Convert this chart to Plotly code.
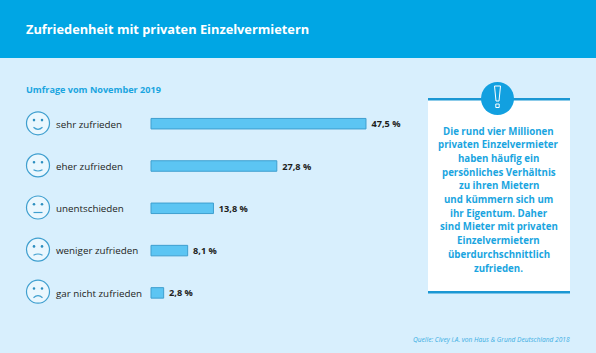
import plotly.graph_objects as go

W, H = 596, 353
categories = ["sehr zufrieden", "eher zufrieden", "unentschieden", "weniger zufrieden", "gar nicht zufrieden"]
values = [47.5, 27.8, 13.8, 8.1, 2.8]
value_labels = ["47,5 %", "27,8 %", "13,8 %", "8,1 %", "2,8 %"]
title = "Zufriedenheit mit privaten Einzelvermietern"
subtitle = "Umfrage vom November 2019"
source = "Quelle: Civey i.A. von Haus & Grund Deutschland 2018"
note_lines = ["Die rund vier Millionen", "privaten Einzelvermieter", "haben häufig ein", "persönliches Verhältnis",
              "zu ihren Mietern", "und kümmern sich um", "ihr Eigentum. Daher", "sind Mieter mit privaten",
              "Einzelvermietern", "überdurchschnittlich", "zufrieden."]
mouth_curve = [5, 3, 0, -3, -5]

FONT = "Open Sans"
BG, HEAD, BLUE, BAR, BARLINE, DARK = "#d8effd", "#00a6e4", "#1aa5e0", "#5cc5f3", "#3f9fcf", "#1d1d1b"
X0, PXU, Y0, ROW = 151, 4.526, 123.7, 42.3


def fx(p): return p / W
def fy(p): return 1 - p / H


shapes, ann = [], []


def rect(x0, y0, x1, y1, fill):
    shapes.append(dict(type="rect", xref="paper", yref="paper", x0=fx(x0), x1=fx(x1), y0=fy(y1), y1=fy(y0),
                       fillcolor=fill, line_width=0, layer="below"))


def circle(cx, cy, r, fill, line=None, lw=0):
    shapes.append(dict(type="circle", xref="paper", yref="paper", x0=fx(cx - r), x1=fx(cx + r), y0=fy(cy + r), y1=fy(cy - r),
                       fillcolor=fill, line=dict(color=line or fill, width=lw), layer="below"))


def text(x, y, s, size, color, bold=False, anchor="left", italic=False):
    ann.append(dict(x=fx(x), y=fy(y), xref="paper", yref="paper", text=f"<b>{s}</b>" if bold else s,
                    showarrow=False, xanchor=anchor, yanchor="middle",
                    font=dict(family=FONT, size=size, color=color, style="italic" if italic else "normal")))


rect(0, 0, W, 58, HEAD)
text(24, 29, title, 12.8, "white", bold=True)
text(24, 89, subtitle, 9.1, BLUE, bold=True)

for i, (cat, curve) in enumerate(zip(categories, mouth_curve)):
    cy = 123.3 + i * 42.1
    circle(38, cy, 11.5, "#eaf7fe", "#3f9fcf", 1.2)
    circle(34, cy - 3.2, 1.3, "#2d8fc0")
    circle(42, cy - 3.2, 1.3, "#2d8fc0")
    my = cy + 5 - curve * 0.2
    shapes.append(dict(type="path", xref="paper", yref="paper", layer="below",
                       path=f"M {fx(33.5)} {fy(my)} Q {fx(38)} {fy(my + curve * 0.8)} {fx(42.5)} {fy(my)}",
                       line=dict(color="#3f9fcf", width=1.2)))
    text(54, Y0 + i * ROW + 0.3, cat, 9.8, DARK)

# note box
rect(428, 99, 570, 293, "white")
rect(428, 98, 570, 100.5, "#1b97d3")
rect(428, 291, 570, 293.5, "#1b97d3")
circle(497.5, 98.5, 16.5, "#12a0e0")
shapes.append(dict(type="path", xref="paper", yref="paper", layer="above",
                   path=f"M {fx(494.5)} {fy(86)} L {fx(500.5)} {fy(86)} L {fx(499)} {fy(101)} L {fx(496)} {fy(101)} Z",
                   fillcolor="rgba(0,0,0,0)", line=dict(color="white", width=1)))
shapes.append(dict(type="rect", xref="paper", yref="paper", layer="above",
                   x0=fx(495.8), x1=fx(499.2), y0=fy(107.5), y1=fy(104), fillcolor="rgba(0,0,0,0)", line=dict(color="white", width=1)))
for i, ln in enumerate(note_lines):
    text(498.5, 131 + i * 13.7, ln, 9.7, BLUE, bold=True, anchor="center")

text(572, 339, source, 6.6, "#3aaee3", anchor="right", italic=True)

fig = go.Figure(go.Bar(
    x=values, y=categories, orientation="h", width=10.5 / ROW,
    marker=dict(color=BAR, line=dict(color=BARLINE, width=1)),
    text=[f"\u00a0<b>{v}</b>" for v in value_labels], textposition="outside", cliponaxis=False, constraintext="none",
    textfont=dict(family=FONT, size=9.2, color=DARK), hoverinfo="skip"))
fig.update_layout(
    width=W, height=H, margin=dict(l=0, r=0, t=0, b=0), paper_bgcolor=BG, plot_bgcolor="rgba(0,0,0,0)",
    showlegend=False, shapes=shapes, annotations=ann,
    xaxis=dict(range=[-X0 / PXU, (W - X0) / PXU], visible=False),
    yaxis=dict(range=[(H - Y0) / ROW, -Y0 / ROW], visible=False, type="category", categoryorder="array", categoryarray=categories))
fig.write_html("out.html", config=dict(displayModeBar=False),
               post_script="document.body.style.margin='0';document.body.style.padding='0';document.body.style.overflow='hidden';")
